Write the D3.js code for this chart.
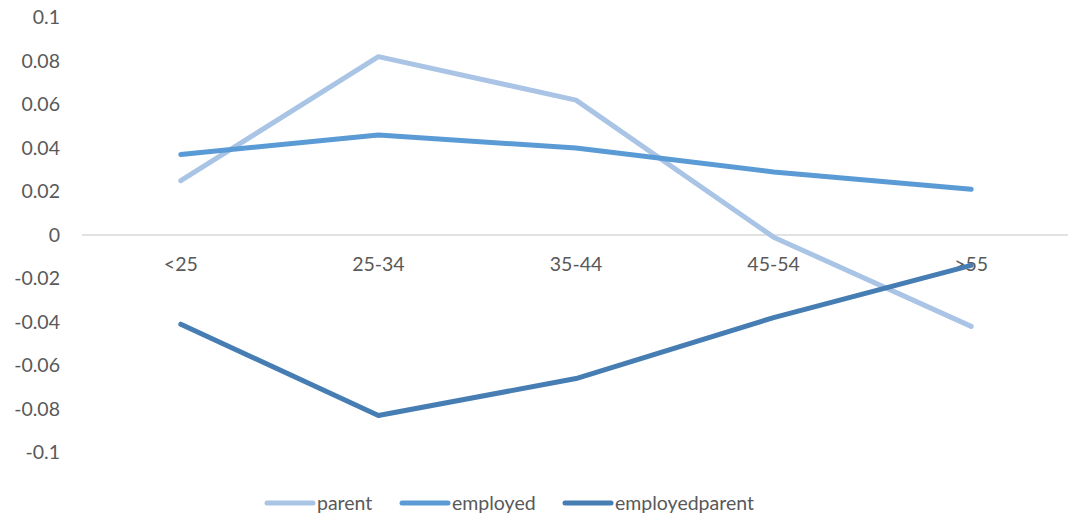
<!DOCTYPE html>
<html>
<head>
<meta charset="utf-8">
<script src="https://cdn.jsdelivr.net/npm/d3@7"></script>
<style>
  html, body { margin: 0; padding: 0; background: #fff; }
  svg { display: block; }
  text { font-family: Lato, "Open Sans", sans-serif; fill: #595959; }
</style>
</head>
<body>
<svg id="chart" width="1068" height="519"></svg>
<script>
// Age groups and the three series plotted against them
const categories = ["<25", "25-34", "35-44", "45-54", ">55"];
const parent = [0.025, 0.082, 0.062, -0.001, -0.042];
const employed = [0.037, 0.046, 0.040, 0.029, 0.021];
const employedparent = [-0.041, -0.083, -0.066, -0.038, -0.014];
const seriesNames = ["parent", "employed", "employedparent"];
const yTicks = [0.1, 0.08, 0.06, 0.04, 0.02, 0, -0.02, -0.04, -0.06, -0.08, -0.1];

const series = [
  { name: seriesNames[0], values: parent, color: "#a9c4e5" },
  { name: seriesNames[1], values: employed, color: "#5b9bd5" },
  { name: seriesNames[2], values: employedparent, color: "#467db3" }
];

const svg = d3.select("#chart");

const x = d3.scaleBand().domain(categories).range([82, 1070]);
const y = d3.scaleLinear().domain([-0.1, 0.1]).range([452.5, 17.5]);

// Zero baseline
svg.append("line")
  .attr("x1", x.range()[0]).attr("x2", x.range()[1])
  .attr("y1", y(0)).attr("y2", y(0))
  .attr("stroke", "#d9d9d9").attr("stroke-width", 1.5);

// Value axis labels
const yAxis = d3.axisLeft(y).tickValues(yTicks)
  .tickFormat(d => d === 0 ? "0" : String(+d.toFixed(2)))
  .tickSize(0).tickPadding(0);
const yg = svg.append("g").attr("transform", "translate(60,0)").call(yAxis);
yg.select(".domain").remove();
yg.selectAll("text").style("font-size", "19.5px").attr("fill", "#595959").attr("font-family", null);

// Category labels sit just below the zero line
const xAxis = d3.axisBottom(x).tickSize(0).tickPadding(0);
const xg = svg.append("g").attr("transform", `translate(0,${y(0) + 22})`).call(xAxis);
xg.select(".domain").remove();
xg.selectAll("text").style("font-size", "19.5px").attr("fill", "#595959").attr("font-family", null);

// Series lines
const line = d3.line()
  .x((d, i) => x(categories[i]) + x.bandwidth() / 2)
  .y(d => y(d));

svg.append("g").selectAll("path")
  .data(series)
  .join("path")
  .attr("d", d => line(d.values))
  .attr("fill", "none")
  .attr("stroke", d => d.color)
  .attr("stroke-width", 5)
  .attr("stroke-linecap", "round")
  .attr("stroke-linejoin", "round");

// Legend
const legendX = [265, 400, 563];
const lg = svg.append("g").attr("transform", "translate(0,503)");
const items = lg.selectAll("g").data(series).join("g")
  .attr("transform", (d, i) => `translate(${legendX[i]},0)`);
items.append("line")
  .attr("x1", 2).attr("x2", 48).attr("y1", 0).attr("y2", 0)
  .attr("stroke", d => d.color).attr("stroke-width", 5)
  .attr("stroke-linecap", "round");
items.append("text")
  .attr("x", 52).attr("y", 0).attr("dy", "0.35em")
  .style("font-size", "19.5px")
  .text(d => d.name);
</script>
</body>
</html>
